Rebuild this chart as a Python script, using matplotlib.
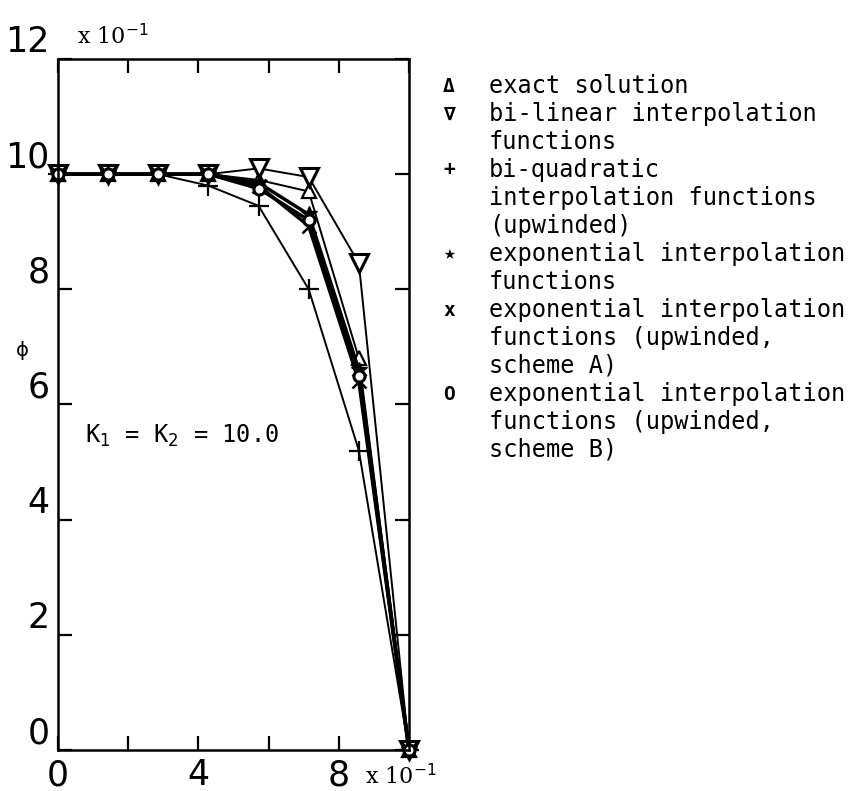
import matplotlib
matplotlib.use("Agg")
import matplotlib.pyplot as plt

x = [0, 1/7, 2/7, 3/7, 4/7, 5/7, 6/7, 1.0]
exact = [1.0, 1.0, 1.0, 1.0, 0.99, 0.97, 0.68, 0.0]
bilinear = [1.0, 1.0, 1.0, 1.0, 1.01, 0.995, 0.845, 0.0]
biquad = [1.0, 1.0, 1.0, 0.98, 0.945, 0.80, 0.52, 0.0]
exp_star = [1.0, 1.0, 1.0, 1.0, 0.985, 0.93, 0.66, 0.0]
exp_x = [1.0, 1.0, 1.0, 1.0, 0.98, 0.91, 0.64, 0.0]
exp_o = [1.0, 1.0, 1.0, 1.0, 0.975, 0.92, 0.65, 0.0]

xticks = [0, 0.2, 0.4, 0.6, 0.8, 1.0]
xticklabels = ["0", "", "4", "", "8", ""]
yticks = [0, 0.2, 0.4, 0.6, 0.8, 1.0, 1.2]
yticklabels = ["0", "2", "4", "6", "8", "10", "12"]

legend_lines = [
    ("\u0394", "exact solution"),
    ("\u2207", "bi-linear interpolation\nfunctions"),
    ("+", "bi-quadratic\ninterpolation functions\n(upwinded)"),
    ("\u2605", "exponential interpolation\nfunctions"),
    ("x", "exponential interpolation\nfunctions (upwinded,\nscheme A)"),
    ("O", "exponential interpolation\nfunctions (upwinded,\nscheme B)"),
]

W, H = 851, 791
fig = plt.figure(figsize=(W / 100, H / 100), dpi=100)
ax = fig.add_axes([58 / W, 1 - 750 / H, (409 - 58) / W, (750 - 59) / H])

kw = dict(color="black", lw=1.4, clip_on=False)
ax.plot(x, exact, marker="^", ms=10, mfc="white", mec="black", mew=1.6, **kw)
ax.plot(x, bilinear, marker="v", ms=13, mfc="white", mec="black", mew=2.2, **kw)
ax.plot(x, biquad, marker="+", ms=15, mew=1.6, **kw)
kw2 = dict(color="black", lw=2.5, clip_on=False)
ax.plot(x, exp_star, marker="*", ms=12, mfc="black", mec="black", **kw2)
ax.plot(x, exp_x, marker="x", ms=10, mew=1.8, **kw2)
ax.plot(x, exp_o, marker="o", ms=8, mfc="white", mec="black", mew=2.2, **kw2)

ax.set_xlim(0, 1.0)
ax.set_ylim(0, 1.2)
ax.set_xticks(xticks)
ax.set_xticklabels(xticklabels, va="top")
ax.set_yticks(yticks)
ax.set_yticklabels(yticklabels, va="bottom")
ax.tick_params(direction="in", length=10, width=1.6, top=True, right=True,
               labelsize=25)
ax.tick_params(axis="x", pad=6)
ax.tick_params(axis="y", pad=6)
for s in ax.spines.values():
    s.set_linewidth(1.8)


def px(xp, yp):
    return xp / W, 1 - yp / H


fig.text(*px(77, 37), "x 10$^{-1}$", fontsize=16, family="DejaVu Serif",
         ha="left", va="center")
fig.text(*px(365, 777), "x 10$^{-1}$", fontsize=16, family="DejaVu Serif",
         ha="left", va="center")
fig.text(*px(22, 350), "\u03d5", fontsize=14, ha="center", va="center")
ax.text(0.077, 0.545, "K$_1$ = K$_2$ = 10.0", fontsize=17, family="DejaVu Sans Mono",
        ha="left", va="center")

# legend as text block
yline = 86
lh = 28
for sym, lab in legend_lines:
    fig.text(*px(449, yline), sym, fontsize=14, family="DejaVu Sans Mono",
             ha="center", va="center", fontweight="bold")
    for i, ln in enumerate(lab.split("\n")):
        fig.text(*px(489, yline + i * lh), ln, fontsize=17, family="DejaVu Sans Mono",
                 ha="left", va="center")
    yline += (lab.count("\n") + 1) * lh

fig.savefig("out.png", dpi=100)
